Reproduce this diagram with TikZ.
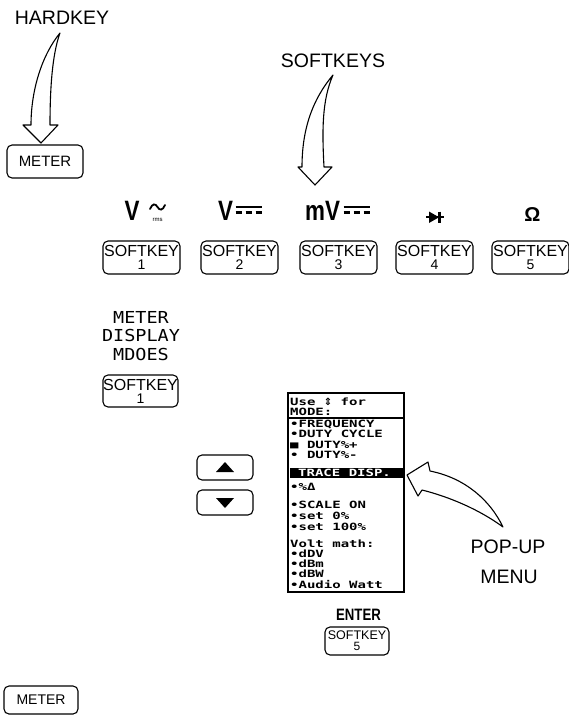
\documentclass[tikz,border=0pt]{standalone}
\usepackage{fontspec}
\setmainfont{Liberation Sans}
\newfontfamily\lcd[FakeStretch=1.4]{DejaVu Sans Mono}
\newfontfamily\lcdb[FakeStretch=1.12]{DejaVu Sans Mono}
\newfontfamily\condb[FakeStretch=0.8]{Liberation Sans}
\newfontfamily\symf{DejaVu Sans}
\usetikzlibrary{calc}
\tikzset{
  keybox/.style={draw, line width=1.1pt, rounded corners=5pt, inner sep=0pt, align=center},
  skey/.style={keybox, minimum width=77pt, minimum height=33pt, font=\fontsize{16}{13}\selectfont},
  lbl/.style={font=\fontsize{19.5}{22}\selectfont, inner sep=0pt, anchor=base, align=center},
  hollow/.style={draw, fill=white, line width=1.1pt, line join=round},
  menutxt/.style={font=\lcd\bfseries\fontsize{10}{10}\selectfont, anchor=base west, inner sep=0pt},
  modetxt/.style={font=\lcdb\fontsize{16.5}{16.5}\selectfont, anchor=base, inner sep=0pt},
  bigsym/.style={font=\condb\bfseries\fontsize{28}{28}\selectfont, anchor=base west, inner sep=0pt},
  dc/.style={line width=2.2pt}
}
\begin{document}
\begin{tikzpicture}[x=1pt,y=-1pt]
\useasboundingbox (0,0) rectangle (569,717);
% --- HARDKEY label and arrow
\node[lbl] (hard) at (62,25) {HARDKEY};
\coordinate (ht) at (60,33);
\draw[hollow] (ht) .. controls (42,55) and (31,90) .. (31,125) -- (23,125) -- (41,143) -- (58,125) -- (50,125)
   .. controls (50,90) and (52,55) .. (ht) -- cycle;
\node[keybox, minimum width=76pt, minimum height=33pt, font=\fontsize{15}{15}\selectfont] (meter1) at (45,161.5) {METER};
% --- SOFTKEYS label and arrow
\node[lbl] (softl) at (333,67) {SOFTKEYS};
\coordinate (st) at (333,75);
\draw[hollow] (st) .. controls (312,100) and (302,130) .. (302,167) -- (298,167) -- (315,185) -- (332,167) -- (324,167)
   .. controls (322,130) and (322,100) .. (st) -- cycle;
% --- symbols row
\node[bigsym] (sv1) at (124.5,220) {V};
\draw[line width=1.8pt, line cap=round] (150,209) .. controls (152.5,203) and (155.5,203.5) .. (157.5,207) .. controls (159.5,210.5) and (162.5,211) .. (165,205);
\node[font=\fontsize{6}{6}\selectfont, anchor=base, inner sep=0pt] (rms) at (157.5,221) {rms};
\node[bigsym] (sv2) at (218,220) {V};
\draw[dc] (235.5,207) -- (262,207);
\draw[dc] (235.5,212.5) -- (242,212.5) (245.5,212.5) -- (252,212.5) (255.5,212.5) -- (262,212.5);
\node[bigsym] (smv) at (305,220) {mV};
\draw[dc] (343.5,207) -- (370,207);
\draw[dc] (343.5,212.5) -- (350,212.5) (353.5,212.5) -- (360,212.5) (363.5,212.5) -- (370,212.5);
% diode
\fill (429,211.5) -- (429,223) -- (439,217.25) -- cycle;
\draw[line width=2.4pt] (439.5,211.5) -- (439.5,223);
\draw[line width=1.6pt] (426,217.25) -- (444,217.25);
\node[font=\bfseries\fontsize{20}{20}\selectfont, anchor=base, inner sep=0pt] (som) at (532.5,221) {Ω};
% softkeys
\node[skey] (sk1) at (141.5,257.5) {SOFTKEY\\\fontsize{14}{13}\selectfont 1};
\node[skey] (sk2) at (239.5,257.5) {SOFTKEY\\\fontsize{14}{13}\selectfont 2};
\node[skey] (sk3) at (338.5,257.5) {SOFTKEY\\\fontsize{14}{13}\selectfont 3};
\node[skey] (sk4) at (434.5,257.5) {SOFTKEY\\\fontsize{14}{13}\selectfont 4};
\node[skey] (sk5) at (530.5,257.5) {SOFTKEY\\\fontsize{14}{13}\selectfont 5};
% --- meter display modes
\node[modetxt] (md1) at (141,323) {METER};
\node[modetxt] (md2) at (141,341.5) {DISPLAY};
\node[modetxt] (md3) at (141,360) {MDOES};
\node[skey, minimum width=75pt, minimum height=32pt] (mk1) at (140.5,391) {SOFTKEY\\\fontsize{14}{13}\selectfont 1};
% --- up/down buttons
\node[keybox, minimum width=56pt, minimum height=25pt] (up) at (225,467.5) {};
\fill ($(up.center)+(-9,4.5)$) -- ($(up.center)+(9,4.5)$) -- ($(up.center)+(0,-5.5)$) -- cycle;
\node[keybox, minimum width=56pt, minimum height=25pt] (down) at (225,502.5) {};
\fill ($(down.center)+(-9,-4.5)$) -- ($(down.center)+(9,-4.5)$) -- ($(down.center)+(0,5.5)$) -- cycle;
% --- pop-up menu
\draw[line width=1.1pt] (288,393) rectangle (404,592);
\draw[line width=1.1pt] (288,418) -- (404,418);
\node[menutxt] (h1) at (290,405) {Use {\symf\bfseries\fontsize{10}{10}\selectfont ⇕} for};
\node[menutxt] (h2) at (290,415.5) {MODE:};
\node[menutxt] (i1) at (290,427) {•FREQUENCY};
\node[menutxt] (i2) at (290,437.5) {•DUTY CYCLE};
\node[menutxt] (i3) at (290,448) {■ DUTY\%+};
\node[menutxt] (i4) at (290,458) {• DUTY\%-};
\fill (290,468) rectangle (404,478);
\node[menutxt, text=white] (i5) at (298,476.5) {TRACE DISP.};
\node[menutxt] (i6) at (290,490) {•\%Δ};
\node[menutxt] (i7) at (290,508) {•SCALE ON};
\node[menutxt] (i8) at (290,519) {•set 0\%};
\node[menutxt] (i9) at (290,530) {•set 100\%};
\node[menutxt] (i10) at (290,547) { Volt math:};
\node[menutxt] (i11) at (290,557) {•dDV};
\node[menutxt] (i12) at (290,567) {•dBm};
\node[menutxt] (i13) at (290,577) {•dBW};
\node[menutxt] (i14) at (290,588) {•Audio Watt};
% pop-up arrow
\draw[hollow] (407,475) -- (428,462) -- (430,471) .. controls (465,478) and (490,500) .. (503,527)
   .. controls (480,510) and (450,497) .. (422,490) -- (418,496) -- cycle;
\node[lbl] (popl) at (508,553) {POP-UP};
\node[lbl] (menul) at (509,583) {MENU};
% --- enter
\node[font=\condb\bfseries\fontsize{16.5}{16.5}\selectfont, anchor=base, inner sep=0pt] (enter) at (358.5,620) {ENTER};
\node[keybox, minimum width=64pt, minimum height=28pt, font=\fontsize{12.5}{11}\selectfont] (ek5) at (357,641) {SOFTKEY\\\fontsize{12}{11}\selectfont 5};
% --- bottom meter
\node[keybox, minimum width=74pt, minimum height=28pt, font=\fontsize{14}{14}\selectfont] (meter2) at (41,700) {METER};
\end{tikzpicture}
\end{document}
